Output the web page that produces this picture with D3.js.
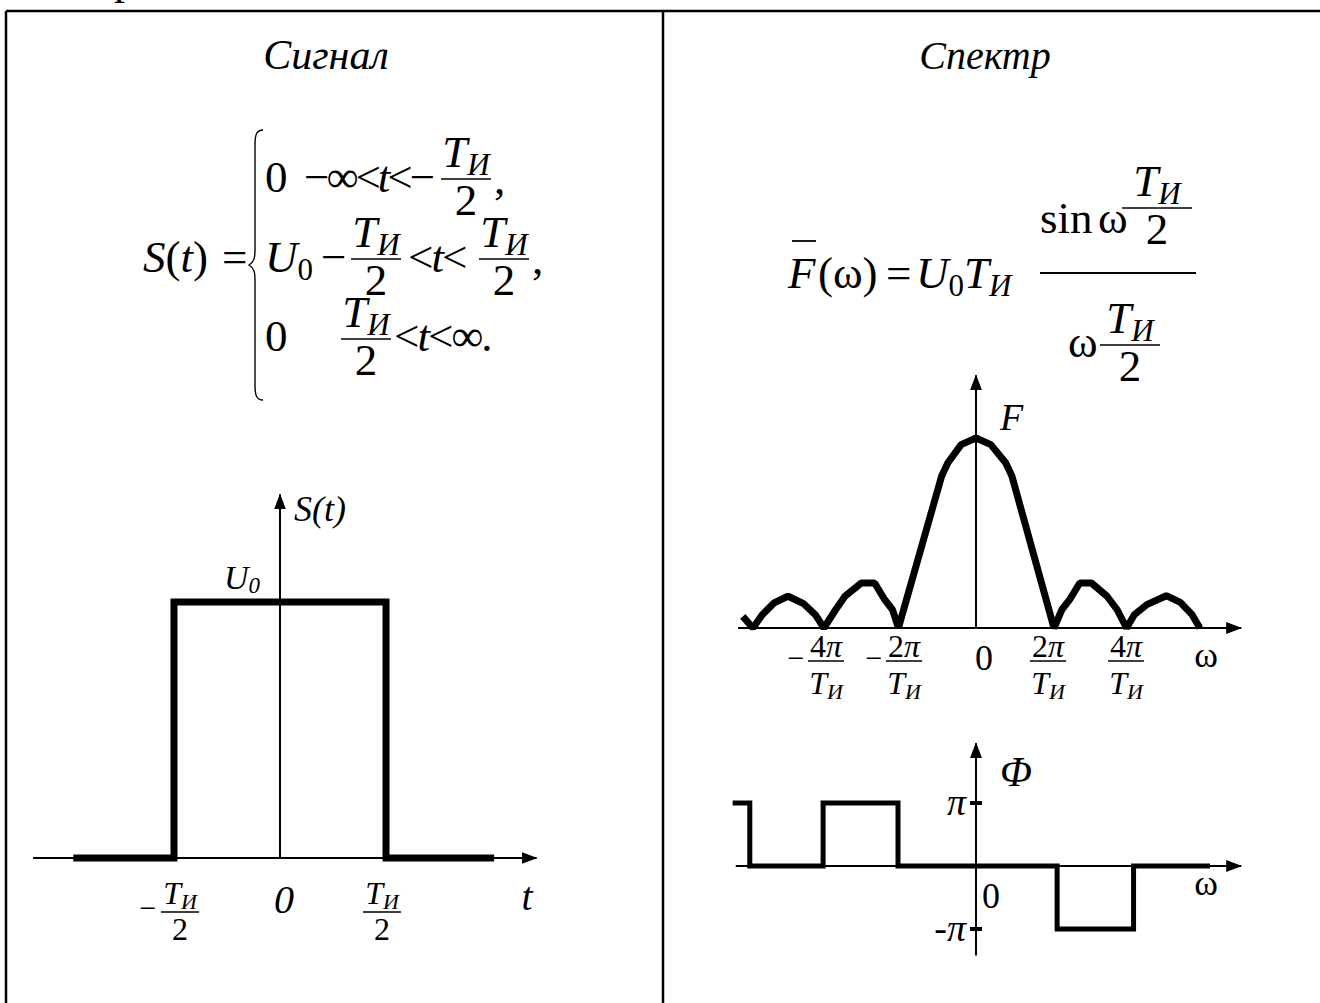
<!DOCTYPE html>
<html>
<head>
<meta charset="utf-8">
<script src="https://cdn.jsdelivr.net/npm/d3@7"></script>
<style>
	body { margin: 0; background: #fff; }
	svg { display: block; }
</style>
</head>
<body>
<svg width="1320" height="1003"></svg>
<script>
// signal: t in units of T_И/2, S in units of U0
var signalT = [-1.95, -1, -1, 1, 1, 2.02];
var signalS = [0, 0, 1, 1, 0, 0];

// amplitude spectrum: w in units of 2π/T_И, F relative to F(0)
var spectrumW = [-2.99, -2.86, -2.74, -2.59, -2.41, -2.21, -2.06, -1.95, -1.80, -1.68, -1.47, -1.30, -1.17, -1.07, -0.995,
	-0.44, -0.36, -0.19, 0, 0.19, 0.38, 0.46, 1.0, 1.10, 1.20, 1.33, 1.48, 1.68, 1.81, 1.93, 2.03, 2.19, 2.44, 2.62, 2.77, 2.87];
var spectrumF = [0.061, 0, 0.07, 0.132, 0.167, 0.128, 0.07, 0, 0.096, 0.167, 0.237, 0.237, 0.149, 0.096, 0,
	0.80, 0.87, 0.965, 1, 0.965, 0.87, 0.80, 0, 0.096, 0.149, 0.237, 0.237, 0.167, 0.096, 0, 0.07, 0.123, 0.170, 0.135, 0.07, 0];

// phase spectrum: step starts, w in units of 2π/T_И, phase in units of π
var phaseW = [-3.12, -2.9, -1.96, -1.0, 1.04, 2.02, 3.0];
var phaseP = [1, 0, 1, 0, -1, 0, 0];

var spectrumTicks = [-2, -1, 1, 2];
var spectrumTickNum = ['4', '2', '2', '4'];
var phaseTicks = [1, -1];
var phaseTickLabels = ['π', '-π'];

var FONT = 'Liberation Serif, Times New Roman, serif';
var svg = d3.select('svg');

function I(t) { return {t: t, i: true}; }
function R(t) { return {t: t, i: false}; }
function Sub(t, it) { return {t: t, i: it, sub: true}; }

function rich(g, x, y, parts, size, anchor) {
	var t = g.append('text')
		.attr('x', x).attr('y', y)
		.style('font-family', FONT)
		.attr('font-size', size)
		.attr('text-anchor', anchor || 'start');
	var shift = 0;
	parts.forEach(function(p) {
		var s = p.sub ? Math.round(size * 0.17) : 0;
		t.append('tspan')
			.attr('dy', s - shift)
			.attr('font-size', p.sub ? Math.round(size * 0.68) : size)
			.attr('font-style', p.i ? 'italic' : 'normal')
			.text(p.t);
		shift = s;
	});
	return t;
}

// nb / db: numerator and denominator baseline offsets from the bar, in font sizes
function frac(g, cx, ly, num, den, size, w, nb, db) {
	rich(g, cx, ly - size * nb, num, size, 'middle');
	g.append('line')
		.attr('x1', cx - w / 2).attr('x2', cx + w / 2)
		.attr('y1', ly).attr('y2', ly)
		.attr('stroke', '#000').attr('stroke-width', 1.6);
	rich(g, cx, ly + size * db, den, size, 'middle');
}

var defs = svg.append('defs');
defs.append('marker').attr('id', 'arrow')
	.attr('viewBox', '0 0 16 12').attr('refX', 15).attr('refY', 6)
	.attr('markerWidth', 16).attr('markerHeight', 12)
	.attr('markerUnits', 'userSpaceOnUse').attr('orient', 'auto')
	.append('path').attr('d', 'M0,0 L16,6 L0,12 Z').attr('fill', '#000');

function axisLine(g, x1, y1, x2, y2) {
	g.append('line')
		.attr('x1', x1).attr('y1', y1).attr('x2', x2).attr('y2', y2)
		.attr('stroke', '#000').attr('stroke-width', 2)
		.attr('marker-end', 'url(#arrow)');
}

// table frame
var frame = svg.append('g').attr('stroke', '#000').attr('stroke-width', 2.5);
frame.append('line').attr('x1', 6).attr('x2', 1320).attr('y1', 11).attr('y2', 11);
frame.append('line').attr('x1', 6).attr('x2', 6).attr('y1', 11).attr('y2', 1003);
frame.append('line').attr('x1', 663).attr('x2', 663).attr('y1', 11).attr('y2', 1003);
rich(svg, 114, -6, [R('р')], 44);

// ---------- left: signal ----------
var left = svg.append('g');
rich(left, 326, 69, [I('Сигнал')], 42, 'middle');

var fs = 45;
var TI = [I('T'), Sub('И', true)];
var two = [R('2')];
rich(left, 143, 272, [I('S'), R('('), I('t'), R(')')], fs);
rich(left, 222, 272, [R('=')], fs);
left.append('path')
	.attr('d', 'M263,130 C257,130 255,134 255,144 L255,250 C255,258 254,262 249,265 C254,268 255,272 255,280 L255,386 C255,396 257,400 263,400')
	.attr('fill', 'none').attr('stroke', '#000').attr('stroke-width', 1.4);

rich(left, 265, 192, [R('0')], fs);
rich(left, 304, 192, [R('−∞<'), I('t'), R('<−')], fs).attr('letter-spacing', -3);
frac(left, 466, 179, TI, two, fs, 50, 0.26, 0.8);
rich(left, 494, 194, [R(',')], fs);

rich(left, 265, 272, [I('U'), Sub('0', false)], fs);
rich(left, 321, 272, [R('−')], fs);
frac(left, 376, 259, TI, two, fs, 50, 0.26, 0.8);
rich(left, 408, 272, [R('<'), I('t'), R('<')], fs).attr('letter-spacing', -2);
frac(left, 504, 259, TI, two, fs, 50, 0.26, 0.8);
rich(left, 532, 274, [R(',')], fs);

rich(left, 265, 351, [R('0')], fs);
frac(left, 366, 339, TI, two, fs, 50, 0.26, 0.8);
rich(left, 394, 351, [R('<'), I('t'), R('<∞.')], fs).attr('letter-spacing', -2);

// signal plot
var sx = d3.scaleLinear().domain([-1, 1]).range([174, 386]);
var sy = d3.scaleLinear().domain([0, 1]).range([858, 602]);
var sig = left.append('g');
axisLine(sig, sx(-2.33), sy(0), sx(2.42), sy(0));
axisLine(sig, sx(0), sy(0), sx(0), sy(1.42));
sig.append('path')
	.datum(d3.zip(signalT, signalS))
	.attr('d', d3.line().x(function(d) { return sx(d[0]); }).y(function(d) { return sy(d[1]); }))
	.attr('fill', 'none').attr('stroke', '#000').attr('stroke-width', 7);

rich(sig, sx(0) + 14, 521, [I('S(t)')], 36);
var u0 = sig.append('text').attr('x', sx(0) - 56).attr('y', 589)
	.style('font-family', FONT).attr('font-size', 34).attr('font-style', 'italic');
u0.append('tspan').text('U');
u0.append('tspan').attr('dy', 4).attr('font-size', 23).text('0');
var tiSmall = [I('T'), Sub('И', true)];
frac(sig, sx(-1) + 6, 912, tiSmall, two, 32, 38, 0.24, 0.88);
rich(sig, sx(-1) - 26, 918, [R('−')], 30, 'middle');
frac(sig, sx(1) - 4, 912, tiSmall, two, 32, 38, 0.24, 0.88);
rich(sig, sx(0) + 4, 913, [I('0')], 40, 'middle');
rich(sig, 527, 910, [I('t')], 40, 'middle');

// ---------- right: spectrum ----------
var right = svg.append('g');
rich(right, 985, 69, [I('Спектр')], 40, 'middle');

rich(right, 788, 288, [I('F')], fs);
right.append('line').attr('x1', 792).attr('x2', 816).attr('y1', 241).attr('y2', 241)
	.attr('stroke', '#000').attr('stroke-width', 1.8);
rich(right, 818, 288, [R('(ω)')], fs);
rich(right, 886, 288, [R('=')], fs);
rich(right, 916, 288, [I('U'), Sub('0', false), I('T'), Sub('И', true)], fs);
right.append('line').attr('x1', 1040).attr('x2', 1196).attr('y1', 273).attr('y2', 273)
	.attr('stroke', '#000').attr('stroke-width', 1.8);
rich(right, 1040, 233, [R('sin')], fs);
rich(right, 1098, 233, [R('ω')], fs);
frac(right, 1157, 208, TI, two, fs, 70, 0.26, 0.8);
rich(right, 1068, 357, [R('ω')], fs);
frac(right, 1130, 345, TI, two, fs, 60, 0.26, 0.8);

// amplitude plot
var wx = d3.scaleLinear().domain([0, 1]).range([976, 1054]);
var fy = d3.scaleLinear().domain([0, 1]).range([628, 438]);
var amp = right.append('g');
axisLine(amp, wx(-3.05), fy(0), wx(3.4), fy(0));
axisLine(amp, wx(0), fy(0), wx(0), fy(1.33));
amp.append('path')
	.datum(d3.zip(spectrumW, spectrumF))
	.attr('d', d3.line().x(function(d) { return wx(d[0]); }).y(function(d) { return fy(d[1]); }))
	.attr('fill', 'none').attr('stroke', '#000').attr('stroke-width', 7)
	.attr('stroke-linejoin', 'bevel');

rich(amp, wx(0) + 24, 430, [I('F')], 38);
spectrumTicks.forEach(function(k, i) {
	var cx = wx(k) - 6 * Math.sign(k);
	frac(amp, cx, 661, [R(spectrumTickNum[i]), I('π')], tiSmall, 32, 36, 0.12, 1.04);
	if (k < 0) rich(amp, cx - 30, 668, [R('−')], 30, 'middle');
});
rich(amp, wx(0) + 8, 670, [R('0')], 36, 'middle');
rich(amp, 1206, 667, [R('ω')], 36, 'middle');

// phase plot
var py = d3.scaleLinear().domain([0, 1]).range([866, 803]);
var ph = right.append('g');
axisLine(ph, wx(-3.08), py(0), wx(3.4), py(0));
axisLine(ph, wx(0), py(-1.42), wx(0), py(1.95));
ph.append('path')
	.datum(d3.zip(phaseW, phaseP))
	.attr('d', d3.line().curve(d3.curveStepAfter).x(function(d) { return wx(d[0]); }).y(function(d) { return py(d[1]); }))
	.attr('fill', 'none').attr('stroke', '#000').attr('stroke-width', 5);
phaseTicks.forEach(function(p, i) {
	ph.append('line').attr('x1', wx(0) - 6).attr('x2', wx(0) + 6).attr('y1', py(p)).attr('y2', py(p))
		.attr('stroke', '#000').attr('stroke-width', 4);
	var lab = phaseTickLabels[i];
	rich(ph, wx(0) - 10, py(p) + 12, lab.length > 1 ? [R(lab.charAt(0)), I(lab.charAt(1))] : [I(lab)], 38, 'end');
});
rich(ph, wx(0) + 24, 786, [I('Φ')], 42);
rich(ph, wx(0) + 6, 908, [R('0')], 36);
rich(ph, 1206, 895, [R('ω')], 36, 'middle');
</script>
</body>
</html>
